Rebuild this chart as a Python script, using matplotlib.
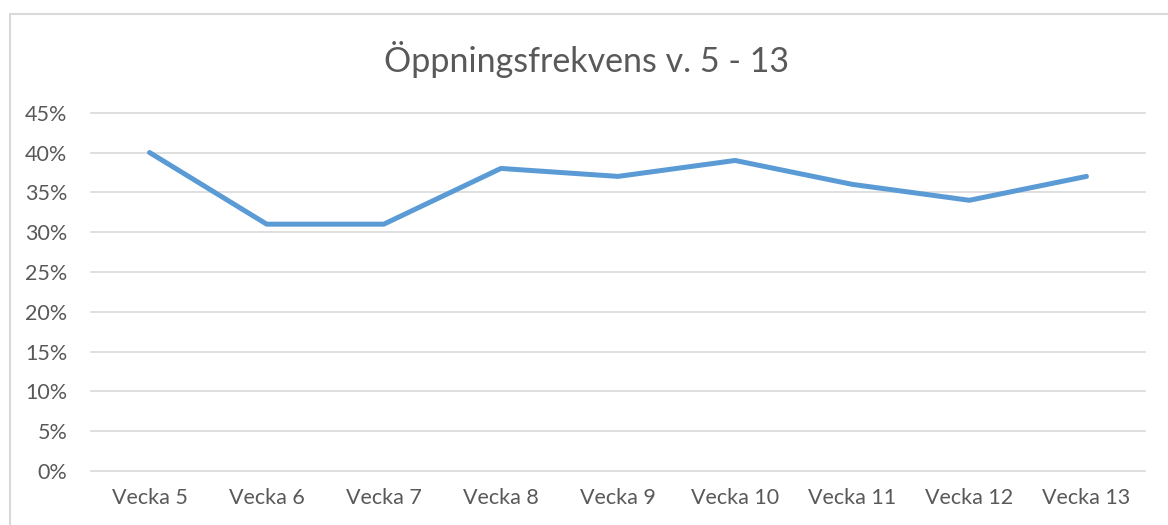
import matplotlib.pyplot as plt
from matplotlib.patches import Rectangle
from matplotlib.ticker import FuncFormatter

# Data
veckor = ["Vecka 5", "Vecka 6", "Vecka 7", "Vecka 8", "Vecka 9",
          "Vecka 10", "Vecka 11", "Vecka 12", "Vecka 13"]
oppning = [0.40, 0.31, 0.31, 0.38, 0.37, 0.39, 0.36, 0.34, 0.37]
y_ticks = [0, 0.05, 0.10, 0.15, 0.20, 0.25, 0.30, 0.35, 0.40, 0.45]

plt.rcParams['font.family'] = ['Lato', 'DejaVu Sans']
text_col = '#595959'
grid_col = '#D9D9D9'

W, H = 1168, 525
fig = plt.figure(figsize=(W / 100, H / 100), dpi=100)

# Chart frame (cut off at right and bottom like the reference)
fig.patches.append(Rectangle((10 / W, -0.1), 1.2, (H - 14) / H + 0.1,
                             transform=fig.transFigure, fill=False,
                             edgecolor=grid_col, linewidth=1.5))

ax = fig.add_axes([91 / W, 54 / H, (1145 - 91) / W, (471 - 112.7) / H])
x = list(range(len(veckor)))
ax.plot(x, oppning, color='#5B9BD5', linewidth=3.6, solid_capstyle='round',
        solid_joinstyle='round', zorder=3, clip_on=False)

ax.set_xlim(-0.5, len(veckor) - 0.5)
ax.set_ylim(0, 0.45)
ax.set_yticks(y_ticks)
ax.yaxis.set_major_formatter(FuncFormatter(lambda v, p: f"{round(v * 100)}%"))
ax.set_xticks(x)
ax.set_xticklabels(veckor)

for v in y_ticks:
    ax.axhline(v, color=grid_col, linewidth=1.2, zorder=1, clip_on=False)

for s in ax.spines.values():
    s.set_visible(False)
ax.tick_params(axis='both', length=0, labelsize=15.5, colors=text_col)
ax.tick_params(axis='y', pad=17)
ax.tick_params(axis='x', pad=12)

fig.text(587 / W, 1 - 60 / H, "Öppningsfrekvens v. 5 - 13", ha='center',
         va='center', fontsize=24.5, color=text_col)

fig.savefig('out.png', dpi=100)
